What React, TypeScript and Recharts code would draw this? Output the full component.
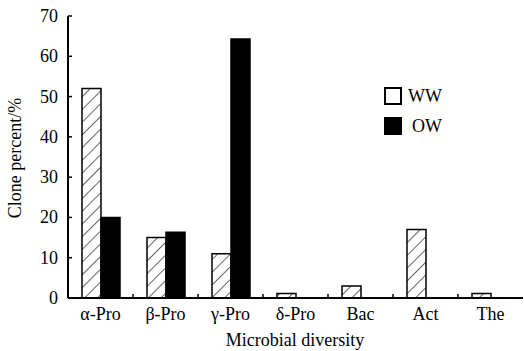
import { BarChart, Bar, XAxis, YAxis, Legend, Label } from "recharts";

const categories = ["α-Pro", "β-Pro", "γ-Pro", "δ-Pro", "Bac", "Act", "The"];
const wwValues = [52, 15, 11, 1.1, 3, 17, 1.1];
const owValues = [20, 16.3, 64.3, 0, 0, 0, 0];
const yTicks = [0, 10, 20, 30, 40, 50, 60, 70];
const seriesOrder = ["WW", "OW"];

const data = categories.map((name, i) => ({ name, WW: wwValues[i], OW: owValues[i] }));

const FONT = "Liberation Serif, serif";
const textStyle = { fontFamily: FONT, fontSize: 18, fill: "#000" };

const XTick = (props: any) => {
  const { x, y, payload, index } = props;
  const half = payload && payload.offset ? payload.offset : 32.5;
  return (
    <g>
      {index < categories.length - 1 && (
        <line x1={x + half} x2={x + half} y1={y} y2={y - 4} stroke="#000" strokeWidth={1.5} />
      )}
      <text x={x} y={y + 22} textAnchor="middle" style={textStyle}>
        {payload.value}
      </text>
    </g>
  );
};

const YTick = (props: any) => {
  const { x, y, payload } = props;
  return (
    <g>
      <line x1={x} x2={x + 4} y1={y} y2={y} stroke="#000" strokeWidth={1.5} />
      <text x={x - 10} y={y + 6} textAnchor="end" style={textStyle}>
        {payload.value}
      </text>
    </g>
  );
};

const LegendBox = (props: any) => {
  const items = [...(props.payload || [])].sort(
    (a: any, b: any) => seriesOrder.indexOf(a.value) - seriesOrder.indexOf(b.value)
  );
  return (
    <div style={{ fontFamily: FONT, fontSize: 18, color: "#000" }}>
      {items.map((it: any, i: number) => (
        <div key={it.value} style={{ display: "flex", alignItems: "center", height: 18, marginTop: i === 0 ? 0 : 12 }}>
          <span
            style={{
              display: "inline-block",
              boxSizing: "border-box",
              width: 18,
              height: 18,
              border: "2px solid #000",
              background: it.value === "WW" ? "#fff" : "#000",
            }}
          />
          <span style={{ marginLeft: it.value === "WW" ? 6 : 10, lineHeight: "18px" }}>{it.value}</span>
        </div>
      ))}
    </div>
  );
};

export default function App() {
  return (
    <div style={{ position: "absolute", left: 0, top: 0, width: 524, height: 351, background: "#fff" }}>
      <BarChart
        width={524}
        height={351}
        data={data}
        margin={{ top: 16, right: 1, left: 0, bottom: 0 }}
        barSize={19}
        barGap={0}
      >
        <defs>
          <pattern id="hatch" patternUnits="userSpaceOnUse" width={9} height={9} patternTransform="rotate(45)">
            <rect width={9} height={9} fill="#fff" />
            <line x1={0} y1={0} x2={0} y2={9} stroke="#000" strokeWidth={1.2} />
          </pattern>
        </defs>
        <XAxis
          dataKey="name"
          height={53}
          tickLine={false}
          tickSize={0}
          tickMargin={0}
          axisLine={{ stroke: "#000", strokeWidth: 2 }}
          tick={(p: any) => <XTick {...p} />}
          interval={0}
        >
          <Label
            content={() => (
              <text x={295} y={346} textAnchor="middle" style={textStyle}>
                Microbial diversity
              </text>
            )}
          />
        </XAxis>
        <YAxis
          width={68}
          domain={[0, 70]}
          ticks={yTicks}
          interval={0}
          tickLine={false}
          tickSize={0}
          tickMargin={0}
          axisLine={{ stroke: "#000", strokeWidth: 2 }}
          tick={(p: any) => <YTick {...p} />}
        >
          <Label
            content={() => (
              <text x={21} y={158} transform="rotate(-90 21 158)" textAnchor="middle" style={textStyle}>
                Clone percent/%
              </text>
            )}
          />
        </YAxis>
        <Legend
          layout="vertical"
          align="center"
          verticalAlign="middle"
          content={<LegendBox />}
          wrapperStyle={{ position: "absolute", left: 384, top: 87, width: 80, bottom: "auto", right: "auto" }}
        />
        <Bar dataKey="WW" fill="url(#hatch)" stroke="#000" strokeWidth={1.5} isAnimationActive={false} />
        <Bar dataKey="OW" fill="#000" stroke="#000" strokeWidth={1.5} isAnimationActive={false} />
      </BarChart>
    </div>
  );
}
